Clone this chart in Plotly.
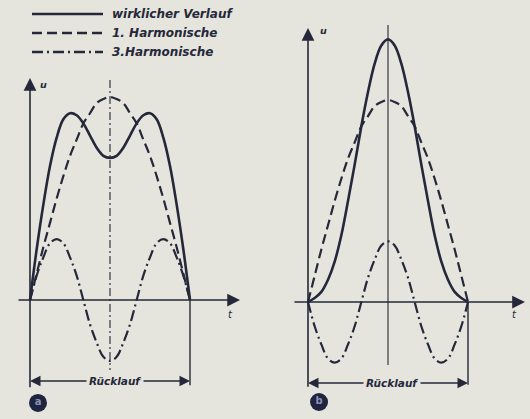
import plotly.graph_objects as go

# sample positions across one "Rücklauf" period (fraction of period)
x_pts = [0, 1/24, 2/24, 3/24, 4/24, 5/24, 6/24, 7/24, 8/24, 9/24, 10/24, 11/24, 12/24,
         13/24, 14/24, 15/24, 16/24, 17/24, 18/24, 19/24, 20/24, 21/24, 22/24, 23/24, 1]

# values (amplitude of 1st harmonic = 1)
h1 = [0, 0.13, 0.26, 0.38, 0.50, 0.61, 0.71, 0.79, 0.87, 0.92, 0.97, 0.99, 1.00,
      0.99, 0.97, 0.92, 0.87, 0.79, 0.71, 0.61, 0.50, 0.38, 0.26, 0.13, 0]
h3_a = [0, 0.12, 0.21, 0.28, 0.30, 0.28, 0.21, 0.12, 0, -0.12, -0.21, -0.28, -0.30,
        -0.28, -0.21, -0.12, 0, 0.12, 0.21, 0.28, 0.30, 0.28, 0.21, 0.12, 0]
sum_a = [0, 0.25, 0.47, 0.66, 0.80, 0.89, 0.92, 0.91, 0.87, 0.81, 0.75, 0.71, 0.70,
         0.71, 0.75, 0.81, 0.87, 0.91, 0.92, 0.89, 0.80, 0.66, 0.47, 0.25, 0]
h3_b = [0, -0.12, -0.21, -0.28, -0.30, -0.28, -0.21, -0.12, 0, 0.12, 0.21, 0.28, 0.30,
        0.28, 0.21, 0.12, 0, -0.12, -0.21, -0.28, -0.30, -0.28, -0.21, -0.12, 0]
sum_b = [0, 0.02, 0.05, 0.11, 0.20, 0.33, 0.50, 0.68, 0.87, 1.04, 1.18, 1.27, 1.30,
         1.27, 1.18, 1.04, 0.87, 0.68, 0.50, 0.33, 0.20, 0.11, 0.05, 0.02, 0]

legend_labels = ["wirklicher Verlauf", "1. Harmonische", "3.Harmonische"]
panel_labels = ["a", "b"]
span_label = "Rücklauf"

BG = "#e6e5dd"
INK = "#25283a"
DASH = "10px,5px"
DASHDOT = "11px,4px,2px,4px"
FONT = "DejaVu Sans"

fig = go.Figure()

def add_curves(xa, ya, s, h3):
    fig.add_trace(go.Scatter(x=x_pts, y=h1, mode="lines", line=dict(color=INK, width=2.2, dash=DASH, shape="spline"),
                             xaxis=xa, yaxis=ya, showlegend=False, hoverinfo="skip"))
    fig.add_trace(go.Scatter(x=x_pts, y=h3, mode="lines", line=dict(color=INK, width=2.2, dash=DASHDOT, shape="spline"),
                             xaxis=xa, yaxis=ya, showlegend=False, hoverinfo="skip"))
    fig.add_trace(go.Scatter(x=x_pts, y=s, mode="lines", line=dict(color=INK, width=2.6, shape="spline"),
                             xaxis=xa, yaxis=ya, showlegend=False, hoverinfo="skip"))

add_curves("x", "y", sum_a, h3_a)
add_curves("x2", "y2", sum_b, h3_b)

shapes = []
annotations = []

def panel(xr, yr, ytop, ybot, xl, xright, cdash, yarrow_line, lbl, t_pos, u_pos, circ, rl_pos):
    # y-axis, continued below x axis down to the bracket
    shapes.append(dict(type="line", xref=xr, yref=yr, x0=0, x1=0, y0=ytop - 0.03, y1=ybot,
                       line=dict(color=INK, width=1.6)))
    # right bracket vertical
    shapes.append(dict(type="line", xref=xr, yref=yr, x0=1, x1=1, y0=0, y1=ybot + 0.01,
                       line=dict(color=INK, width=1.4)))
    # center line
    shapes.append(dict(type="line", xref=xr, yref=yr, x0=0.5, x1=0.5, y0=cdash[0], y1=cdash[1],
                       line=dict(color=INK, width=1.1, dash=cdash[2])))
    # axis arrows
    annotations.append(dict(xref=xr, yref=yr, axref=xr, ayref=yr, x=0, y=ytop, ax=0, ay=ytop - 0.06,
                            text="", showarrow=True, arrowhead=2, arrowsize=1.5, arrowwidth=1.7, arrowcolor=INK))
    annotations.append(dict(xref=xr, yref=yr, axref=xr, ayref=yr, x=xright, y=0, ax=xl, ay=0,
                            text="", showarrow=True, arrowhead=2, arrowsize=1.5, arrowwidth=1.7, arrowcolor=INK))
    # Rücklauf bracket arrows
    for end in (0, 1):
        annotations.append(dict(xref=xr, yref=yr, axref=xr, ayref=yr, x=end, y=yarrow_line,
                                ax=rl_pos, ay=yarrow_line, text="", showarrow=True, arrowhead=2,
                                arrowsize=1.4, arrowwidth=1.5, arrowcolor=INK))
    annotations.append(dict(xref=xr, yref=yr, x=rl_pos, y=yarrow_line, text="<b><i>" + span_label + "</i></b>",
                            showarrow=False, bgcolor=BG, borderpad=2,
                            font=dict(family=FONT, size=10.5, color=INK)))
    annotations.append(dict(xref=xr, yref=yr, x=t_pos[0], y=t_pos[1], text="<i>t</i>", showarrow=False,
                            font=dict(family=FONT, size=10, color=INK)))
    annotations.append(dict(xref=xr, yref=yr, x=u_pos[0], y=u_pos[1], text="<i><b>u</b></i>", showarrow=False,
                            font=dict(family=FONT, size=9.5, color=INK)))
    fig.add_trace(go.Scatter(x=[circ[0]], y=[circ[1]], mode="markers+text", text=["<b>" + lbl + "</b>"],
                             textposition="middle center",
                             textfont=dict(color="#8c93b0", size=10, family=FONT),
                             marker=dict(size=18, color="#1f2440"),
                             xaxis=xr, yaxis=yr, showlegend=False, hoverinfo="skip"))

panel("x", "y", 1.094, -0.43, -0.081, 1.3125, (1.084, -0.345, "8px,3px,2px,3px"), -0.399,
      panel_labels[0], (1.25, -0.07), (0.085, 1.064), (0.05, -0.507), 0.53)
panel("x2", "y2", 1.356, -0.42, -0.094, 1.356, (1.371, -0.312, "solid"), -0.401,
      panel_labels[1], (1.29, -0.06), (0.095, 1.345), (0.069, -0.495), 0.525)

# legend drawn in page coordinates
leg_y = [14, 33, 52]
leg_dash = ["solid", DASH, DASHDOT]
for py, d, lab in zip(leg_y, leg_dash, legend_labels):
    yp = 1 - py / 419
    shapes.append(dict(type="line", xref="paper", yref="paper", x0=32 / 530, x1=103 / 530, y0=yp, y1=yp,
                       line=dict(color=INK, width=2.4, dash=d)))
    annotations.append(dict(xref="paper", yref="paper", x=110 / 530, y=yp, xanchor="left", yanchor="middle",
                            text="<b><i>" + lab + "</i></b>", showarrow=False,
                            font=dict(family=FONT, size=12, color=INK)))

fig.update_layout(
    width=530, height=419,
    margin=dict(l=0, r=0, t=0, b=0),
    paper_bgcolor=BG, plot_bgcolor=BG,
    shapes=shapes, annotations=annotations,
    xaxis=dict(domain=[0, 0.5], range=[-30 / 160, 235 / 160], visible=False),
    yaxis=dict(domain=[0, 1], range=[-119 / 203, 300 / 203], visible=False),
    xaxis2=dict(domain=[0.5, 1], range=[-43 / 160, 222 / 160], visible=False),
    yaxis2=dict(domain=[0, 1], range=[-117 / 202, 302 / 202], visible=False, anchor="x2"),
)

fig.write_html("out.html", config={"displayModeBar": False},
               post_script="document.body.style.margin='0px';document.body.style.background='" + BG + "';")
